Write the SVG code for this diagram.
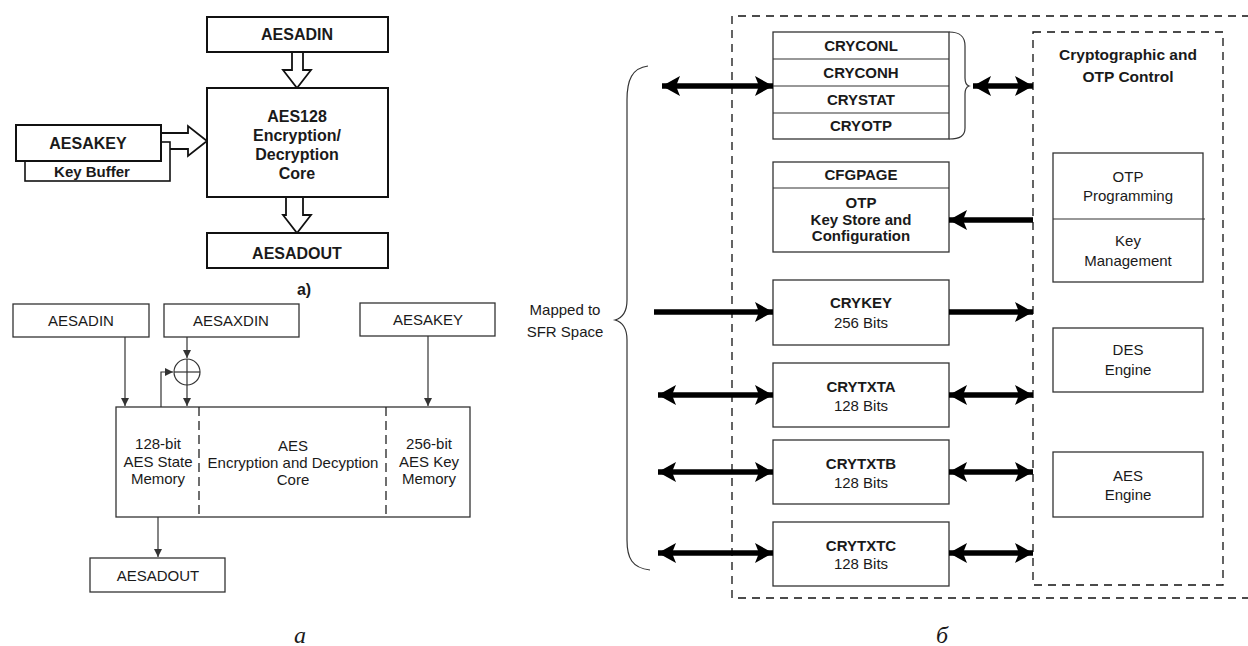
<svg xmlns="http://www.w3.org/2000/svg" width="1248" height="646" viewBox="0 0 1248 646">
<defs>
<style>
text{font-family:"Liberation Sans",Arial,sans-serif;fill:#1a1a1a;text-anchor:middle}
.b16{font-size:16px;font-weight:bold}
.b15{font-size:15px;font-weight:bold}
.n15{font-size:15px}
.cap{font-family:"Liberation Serif","Times New Roman",serif;font-style:italic;font-size:24px}
.thick{fill:#fff;stroke:#111;stroke-width:2}
.thin{fill:#fff;stroke:#333;stroke-width:1.3}
.hol{fill:#fff;stroke:#111;stroke-width:1.8;stroke-linejoin:miter}
.tl{stroke:#333;stroke-width:1.2;fill:none}
.bus{stroke:#000;stroke-width:5.5;fill:none}
.dash{fill:none;stroke:#111;stroke-width:1.3;stroke-dasharray:8 6}
</style>
<marker id="sa" viewBox="0 0 10 10" refX="10" refY="5" markerWidth="8" markerHeight="8" markerUnits="userSpaceOnUse" orient="auto-start-reverse"><path d="M0,0 L10,5 L0,10 z" fill="#333"/></marker>
<marker id="ba" viewBox="0 0 18 20" refX="18" refY="10" markerWidth="18" markerHeight="20" markerUnits="userSpaceOnUse" orient="auto-start-reverse"><path d="M0,0 L18,10 L0,20 L4,10 z" fill="#000"/></marker>
</defs>
<rect width="1248" height="646" fill="#fff"/>

<!-- top-left diagram a) -->
<g id="connectors-a">
<polygon class="hol" points="292,52 303,52 303,70 311,70 297,88 283,70 292,70"/>
<polygon class="hol" points="286,197 303,197 303,215 311,215 297,233 283,215 286,215"/>
<polygon class="hol" points="161,133 188,133 188,126 207,141 188,156 188,149 161,149"/>
</g>
<g id="a-aesadin"><rect class="thick" x="207" y="17" width="181" height="35"/><text class="b16" x="297" y="40">AESADIN</text></g>
<g id="a-core"><rect class="thick" x="207" y="88" width="181" height="109"/>
<text class="b16" x="297" y="122">AES128</text><text class="b16" x="297" y="141">Encryption/</text><text class="b16" x="297" y="160">Decryption</text><text class="b16" x="297" y="179">Core</text></g>
<g id="a-keybuffer"><rect class="thin" x="25" y="142" width="145" height="39" style="stroke:#111;stroke-width:1.6"/><text class="b15" x="92" y="177">Key Buffer</text></g>
<g id="a-aesakey"><rect class="thick" x="16" y="125" width="145" height="36"/><text class="b16" x="88" y="149">AESAKEY</text></g>
<g id="a-aesadout"><rect class="thick" x="207" y="233" width="181" height="35"/><text class="b16" x="297" y="259">AESADOUT</text></g>
<text class="b16" x="304" y="295">a)</text>

<!-- bottom-left diagram -->
<g id="connectors-b">
<line class="tl" x1="125" y1="337" x2="125" y2="406" marker-end="url(#sa)"/>
<line class="tl" x1="187" y1="337" x2="187" y2="358" marker-end="url(#sa)"/>
<line class="tl" x1="187" y1="385" x2="187" y2="406" marker-end="url(#sa)"/>
<polyline class="tl" points="161,407 161,372 173,372" marker-end="url(#sa)"/>
<line class="tl" x1="428" y1="336" x2="428" y2="406" marker-end="url(#sa)"/>
<line class="tl" x1="158" y1="517" x2="158" y2="557" marker-end="url(#sa)"/>
</g>
<g id="b-xor"><circle cx="187" cy="372" r="13" class="tl"/><line class="tl" x1="174" y1="372" x2="200" y2="372"/><line class="tl" x1="187" y1="359" x2="187" y2="385"/></g>
<g id="b-aesadin"><rect class="thin" x="13" y="304" width="136" height="33"/><text class="n15" x="81" y="326">AESADIN</text></g>
<g id="b-aesaxdin"><rect class="thin" x="164" y="304" width="135" height="33"/><text class="n15" x="231" y="326">AESAXDIN</text></g>
<g id="b-aesakey"><rect class="thin" x="360" y="303" width="135" height="33"/><text class="n15" x="428" y="325">AESAKEY</text></g>
<g id="b-main"><rect class="thin" x="116" y="407" width="354" height="110"/>
<line x1="199" y1="407" x2="199" y2="517" stroke="#222" stroke-width="1.3" stroke-dasharray="9 5"/>
<line x1="386" y1="407" x2="386" y2="517" stroke="#222" stroke-width="1.3" stroke-dasharray="9 5"/>
<text class="n15" x="158" y="449">128-bit</text><text class="n15" x="158" y="467">AES State</text><text class="n15" x="158" y="484">Memory</text>
<text class="n15" x="293" y="451">AES</text><text class="n15" x="293" y="468">Encryption and Decyption</text><text class="n15" x="293" y="485">Core</text>
<text class="n15" x="429" y="449">256-bit</text><text class="n15" x="429" y="467">AES Key</text><text class="n15" x="429" y="484">Memory</text></g>
<g id="b-aesadout"><rect class="thin" x="90" y="558" width="135" height="34"/><text class="n15" x="158" y="581">AESADOUT</text></g>
<text class="cap" x="300" y="643">а</text>

<!-- right diagram б -->
<path class="dash" d="M1250,16 H732 V598 H1250"/>
<rect class="dash" x="1033" y="32" width="190" height="553"/>
<g id="r-cry-regs"><rect class="thin" x="773" y="32" width="176" height="107"/>
<line class="tl" x1="773" y1="59" x2="949" y2="59"/><line class="tl" x1="773" y1="86" x2="949" y2="86"/><line class="tl" x1="773" y1="113" x2="949" y2="113"/>
<text class="b15" x="861" y="51">CRYCONL</text><text class="b15" x="861" y="78">CRYCONH</text><text class="b15" x="861" y="105">CRYSTAT</text><text class="b15" x="861" y="131">CRYOTP</text></g>
<g id="r-cfgpage"><rect class="thin" x="773" y="162" width="176" height="90"/><line class="tl" x1="773" y1="188" x2="949" y2="188"/>
<text class="b15" x="861" y="180">CFGPAGE</text><text class="b15" x="861" y="208">OTP</text><text class="b15" x="861" y="225">Key Store and</text><text class="b15" x="861" y="241">Configuration</text></g>
<g id="r-crykey"><rect class="thin" x="773" y="280" width="176" height="65"/><text class="b15" x="861" y="308">CRYKEY</text><text class="n15" x="861" y="328">256 Bits</text></g>
<g id="r-crytxta"><rect class="thin" x="773" y="363" width="176" height="64"/><text class="b15" x="861" y="392">CRYTXTA</text><text class="n15" x="861" y="411">128 Bits</text></g>
<g id="r-crytxtb"><rect class="thin" x="773" y="440" width="176" height="64"/><text class="b15" x="861" y="469">CRYTXTB</text><text class="n15" x="861" y="488">128 Bits</text></g>
<g id="r-crytxtc"><rect class="thin" x="773" y="522" width="176" height="64"/><text class="b15" x="861" y="551">CRYTXTC</text><text class="n15" x="861" y="569">128 Bits</text></g>
<g id="r-control"><text class="b15" x="1128" y="60" style="font-size:15.5px">Cryptographic and</text><text class="b15" x="1128" y="82" style="font-size:15.5px">OTP Control</text></g>
<g id="r-otp"><rect class="thin" x="1053" y="153" width="150" height="129"/><line class="tl" x1="1053" y1="219" x2="1205" y2="219"/>
<text class="n15" x="1128" y="182">OTP</text><text class="n15" x="1128" y="201">Programming</text><text class="n15" x="1128" y="246">Key</text><text class="n15" x="1128" y="266">Management</text></g>
<g id="r-des"><rect class="thin" x="1053" y="328" width="150" height="64"/><text class="n15" x="1128" y="355">DES</text><text class="n15" x="1128" y="375">Engine</text></g>
<g id="r-aes"><rect class="thin" x="1053" y="452" width="150" height="65"/><text class="n15" x="1128" y="481">AES</text><text class="n15" x="1128" y="500">Engine</text></g>
<g id="r-mapped"><text class="n15" x="565" y="315">Mapped to</text><text class="n15" x="565" y="337">SFR Space</text>
<path class="tl" d="M648,66 C632,68 627,80 627,100 L627,300 C627,313 622,318 615,320 C622,322 627,327 627,340 L627,540 C627,558 632,568 650,570"/>
<path class="tl" d="M949,32 C960,32 965,36 965,46 L965,78 C965,83 966,85 969,86 C966,87 965,89 965,94 L965,128 C965,136 960,139 949,139"/></g>
<g id="connectors-r">
<line class="bus" x1="662" y1="86" x2="773" y2="86" marker-start="url(#ba)" marker-end="url(#ba)"/>
<line class="bus" x1="973" y1="86" x2="1033" y2="86" marker-start="url(#ba)" marker-end="url(#ba)"/>
<line class="bus" x1="1033" y1="220" x2="949" y2="220" marker-end="url(#ba)"/>
<line class="bus" x1="654" y1="312" x2="773" y2="312" marker-end="url(#ba)"/>
<line class="bus" x1="949" y1="312" x2="1033" y2="312" marker-end="url(#ba)"/>
<line class="bus" x1="658" y1="395" x2="773" y2="395" marker-start="url(#ba)" marker-end="url(#ba)"/>
<line class="bus" x1="949" y1="395" x2="1033" y2="395" marker-start="url(#ba)" marker-end="url(#ba)"/>
<line class="bus" x1="658" y1="472" x2="773" y2="472" marker-start="url(#ba)" marker-end="url(#ba)"/>
<line class="bus" x1="949" y1="472" x2="1033" y2="472" marker-start="url(#ba)" marker-end="url(#ba)"/>
<line class="bus" x1="658" y1="553" x2="773" y2="553" marker-start="url(#ba)" marker-end="url(#ba)"/>
<line class="bus" x1="949" y1="553" x2="1033" y2="553" marker-start="url(#ba)" marker-end="url(#ba)"/>
</g>
<text class="cap" x="942" y="643">б</text>
</svg>
